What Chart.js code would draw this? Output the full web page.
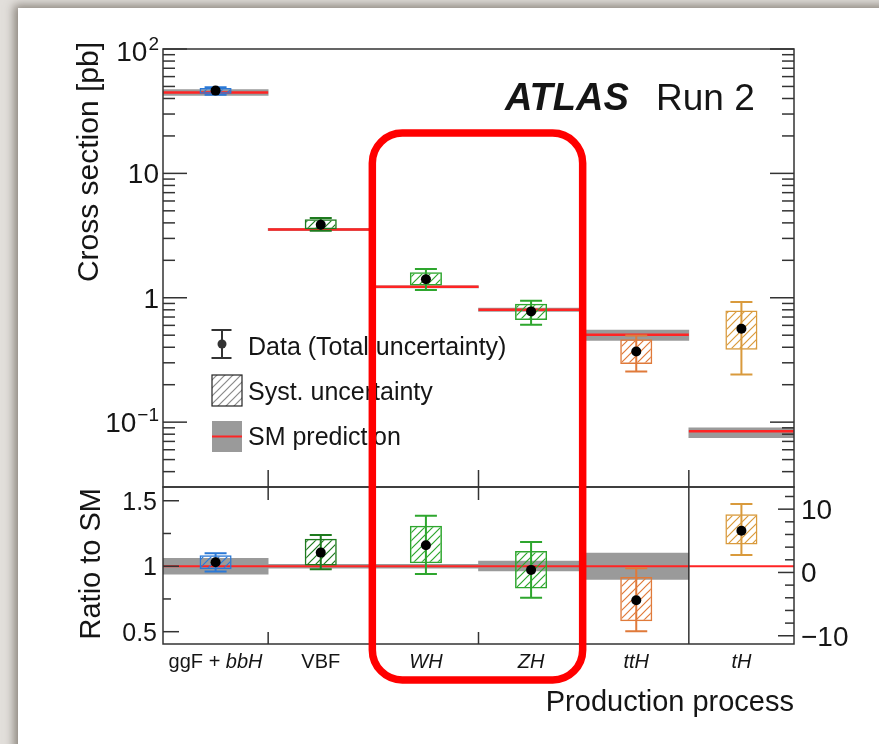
<!DOCTYPE html>
<html>
<head>
<meta charset="utf-8">
<script src="https://cdn.jsdelivr.net/npm/chart.js@4.4.1/dist/chart.umd.min.js"></script>
<style>
  html, body { margin: 0; width: 879px; height: 744px; overflow: hidden; background: #e2dfdb; }
  #card { position: absolute; left: 18px; top: 8px; width: 900px; height: 800px; background: #fff;
          box-shadow: -4px -3px 9px rgba(70, 60, 50, 0.55); }
  canvas { position: absolute; left: 0; top: 0; }
</style>
</head>
<body>
<div id="card"></div>
<canvas id="xsecChart" width="879" height="744"></canvas>
<canvas id="ratioChart" width="879" height="744"></canvas>
<script>
// production modes: [upright part, italic part]
const categoryParts = [["ggF + ", "bbH"], ["VBF", ""], ["", "WH"], ["", "ZH"], ["", "ttH"], ["", "tH"]];
const categories = categoryParts.map((p) => p.join(""));
const procColors = ["#2b79d6", "#1e7a1e", "#2ea62e", "#2ea62e", "#e07a3a", "#d99a3c"];

// measured cross sections [pb]
const xsecValue = [46.3, 3.86, 1.41, 0.777, 0.37, 0.564];
const xsecSystLo = [43.7, 3.56, 1.253, 0.663, 0.293, 0.382];
const xsecSystHi = [48.5, 4.28, 1.605, 0.894, 0.464, 0.79];
const xsecTotLo = [42.9, 3.45, 1.153, 0.608, 0.255, 0.242];
const xsecTotHi = [49.2, 4.38, 1.70, 0.948, 0.497, 0.924];

// SM predictions [pb]
const smValue = [44.7, 3.54, 1.225, 0.80, 0.505, 0.0843];
const smLo = [42.3, 3.47, 1.20, 0.775, 0.455, 0.075];
const smHi = [47.2, 3.61, 1.25, 0.825, 0.55, 0.090];

// ratio to SM (tH is read on the right-hand axis)
const ratioValue = [1.03, 1.104, 1.16, 0.972, 0.74, 6.6];
const ratioSystLo = [0.977, 1.005, 1.023, 0.829, 0.58, 4.4];
const ratioSystHi = [1.084, 1.21, 1.31, 1.117, 0.918, 9.2];
const ratioTotLo = [0.96, 0.977, 0.941, 0.76, 0.504, 2.75];
const ratioTotHi = [1.10, 1.239, 1.386, 1.185, 0.985, 10.8];
const ratioBandLo = [0.94, 0.985, 0.985, 0.965, 0.90, null];
const ratioBandHi = [1.06, 1.015, 1.015, 1.04, 1.10, null];

// axis ticks
const logTicks = [0.1, 1, 10, 100];
const logTickLabels = [["10", "\u22121"], ["1", ""], ["10", ""], ["10", "2"]];
const ratioTicks = [0.5, 1, 1.5];
const ratioTickLabels = ["0.5", "1", "1.5"];
const ratioMinorTicks = [0.75, 1.25];
const tHTicks = [-10, 0, 10];
const tHTickLabels = ["\u221210", "0", "10"];
const tHMinorTicks = [-8, -6, -4, -2, 2, 4, 6, 8, 12];

const legendLabels = ["Data (Total uncertainty)", "Syst. uncertainty", "SM prediction"];

const FONT = '"Liberation Sans", Arial, Helvetica, sans-serif';
const INK = "#151515";
const FRAME = "#333";
const SM_RED = "#ff2424";
const SM_GREY = "#9a9a9a";
const TH = categories.length - 1;

function hatch(ctx, color) {
  const tile = document.createElement("canvas");
  tile.width = tile.height = 8;
  const g = tile.getContext("2d");
  g.strokeStyle = color;
  g.lineWidth = 1.2;
  g.beginPath();
  g.moveTo(0, 8); g.lineTo(8, 0);
  g.moveTo(-2, 2); g.lineTo(2, -2);
  g.moveTo(6, 10); g.lineTo(10, 6);
  g.stroke();
  return ctx.createPattern(tile, "repeat");
}

function edge(x, i) {
  return x.getPixelForValue(i - 0.5);
}

function drawErrorBars(ctx, x, scaleFor, lo, hi) {
  ctx.save();
  ctx.lineWidth = 2;
  lo.forEach((v, i) => {
    const ys = scaleFor(i);
    const cx = x.getPixelForValue(i);
    const y1 = ys.getPixelForValue(v);
    const y2 = ys.getPixelForValue(hi[i]);
    ctx.strokeStyle = procColors[i];
    ctx.beginPath();
    ctx.moveTo(cx, y1); ctx.lineTo(cx, y2);
    ctx.moveTo(cx - 11, y1); ctx.lineTo(cx + 11, y1);
    ctx.moveTo(cx - 11, y2); ctx.lineTo(cx + 11, y2);
    ctx.stroke();
  });
  ctx.restore();
}

function line(ctx, x1, y1, x2, y2) {
  ctx.beginPath();
  ctx.moveTo(x1, y1);
  ctx.lineTo(x2, y2);
  ctx.stroke();
}

const xsecDecor = {
  id: "xsecDecor",
  afterDatasetDraw(chart, args) {
    const { ctx } = chart;
    const { x, y } = chart.scales;
    if (args.index === 0) {
      ctx.save();
      ctx.strokeStyle = SM_RED;
      ctx.lineWidth = 2.5;
      smValue.forEach((v, i) => {
        const py = y.getPixelForValue(v);
        line(ctx, edge(x, i), py, edge(x, i + 1), py);
      });
      ctx.restore();
    }
    if (args.index === 1) drawErrorBars(ctx, x, () => y, xsecTotLo, xsecTotHi);
  },
  afterDraw(chart) {
    const { ctx, chartArea: a } = chart;
    const { x, y } = chart.scales;
    ctx.save();
    ctx.strokeStyle = FRAME;
    ctx.lineWidth = 1.5;
    ctx.strokeRect(a.left, a.top, a.right - a.left, a.bottom - a.top);

    // log ticks on both sides
    for (let d = -2; d <= 2; d++) {
      for (let m = 1; m <= 9; m++) {
        const v = m * Math.pow(10, d);
        if (v < y.min || v > y.max) continue;
        const py = y.getPixelForValue(v);
        const len = m === 1 ? 24 : 12;
        line(ctx, a.left, py, a.left + len, py);
        line(ctx, a.right - len, py, a.right, py);
      }
    }
    // bin boundary ticks
    for (let i = 1; i < categories.length; i++) {
      const px = edge(x, i);
      line(ctx, px, a.bottom, px, a.bottom - 17);
    }

    // tick labels
    ctx.fillStyle = INK;
    ctx.textBaseline = "alphabetic";
    logTicks.forEach((v, i) => {
      const [base, sup] = logTickLabels[i];
      const py = y.getPixelForValue(v) + (v === y.max ? 12 : 10);
      let right = a.left - 4;
      if (sup) {
        ctx.font = `19px ${FONT}`;
        ctx.textAlign = "right";
        ctx.fillText(sup, right, py - 11);
        right -= ctx.measureText(sup).width + 1;
      }
      ctx.font = `28px ${FONT}`;
      ctx.textAlign = "right";
      ctx.fillText(base, right, py);
    });

    // y title
    ctx.save();
    ctx.translate(98, 42);
    ctx.rotate(-Math.PI / 2);
    ctx.font = `30px ${FONT}`;
    ctx.textAlign = "right";
    ctx.fillText("Cross section [pb]", 0, 0);
    ctx.restore();

    // experiment label
    ctx.textAlign = "left";
    ctx.font = `italic bold 38px ${FONT}`;
    ctx.fillText("ATLAS", 505, 110);
    ctx.font = `37px ${FONT}`;
    ctx.fillText("Run 2", 656, 110);

    // legend
    const lx = 212, lw = 30;
    ctx.strokeStyle = "#333";
    ctx.lineWidth = 2;
    line(ctx, lx + 10, 330, lx + 10, 358);
    line(ctx, lx - 0.5, 330, lx + 19.5, 330);
    line(ctx, lx - 0.5, 358, lx + 19.5, 358);
    ctx.fillStyle = "#333";
    ctx.beginPath();
    ctx.arc(lx + 10, 344, 4.5, 0, Math.PI * 2);
    ctx.fill();

    ctx.fillStyle = hatch(ctx, "#8a8a8a");
    ctx.fillRect(lx, 375, lw, 31);
    ctx.strokeStyle = "#222";
    ctx.lineWidth = 1.2;
    ctx.strokeRect(lx, 375, lw, 31);

    ctx.fillStyle = SM_GREY;
    ctx.fillRect(lx, 421, lw, 31);
    ctx.strokeStyle = SM_RED;
    ctx.lineWidth = 2;
    line(ctx, lx, 436.5, lx + lw, 436.5);

    ctx.fillStyle = INK;
    ctx.font = `25px ${FONT}`;
    ctx.textAlign = "left";
    [355, 400, 445].forEach((by, i) => ctx.fillText(legendLabels[i], 248, by));
    ctx.restore();
  },
};

const ratioDecor = {
  id: "ratioDecor",
  afterDatasetDraw(chart, args) {
    const { ctx, chartArea: a } = chart;
    const { x, y, yR } = chart.scales;
    if (args.index === 0) {
      ctx.save();
      ctx.strokeStyle = SM_RED;
      ctx.lineWidth = 2;
      const py = y.getPixelForValue(1);
      line(ctx, a.left, py, a.right, py);
      ctx.restore();
    }
    if (args.index === 2) {
      drawErrorBars(ctx, x, (i) => (i === TH ? yR : y), ratioTotLo, ratioTotHi);
    }
  },
  afterDraw(chart) {
    const { ctx, chartArea: a } = chart;
    const { x, y, yR } = chart.scales;
    ctx.save();
    ctx.strokeStyle = FRAME;
    ctx.lineWidth = 1.5;
    ctx.strokeRect(a.left, a.top, a.right - a.left, a.bottom - a.top);

    // bin boundaries: short ticks, full line before tH
    for (let i = 1; i < categories.length; i++) {
      const px = edge(x, i);
      if (i === TH) {
        line(ctx, px, a.top, px, a.bottom);
      } else {
        line(ctx, px, a.top, px, a.top + 13);
        line(ctx, px, a.bottom, px, a.bottom - 12);
      }
    }
    ratioTicks.forEach((v) => { const py = y.getPixelForValue(v); line(ctx, a.left, py, a.left + 16, py); });
    ratioMinorTicks.forEach((v) => { const py = y.getPixelForValue(v); line(ctx, a.left, py, a.left + 8, py); });
    tHTicks.forEach((v) => { const py = yR.getPixelForValue(v); line(ctx, a.right - 16, py, a.right, py); });
    tHMinorTicks.forEach((v) => { const py = yR.getPixelForValue(v); line(ctx, a.right - 9, py, a.right, py); });

    ctx.fillStyle = INK;
    ctx.textBaseline = "alphabetic";
    ctx.font = `25px ${FONT}`;
    ctx.textAlign = "right";
    ratioTicks.forEach((v, i) => ctx.fillText(ratioTickLabels[i], a.left - 6, y.getPixelForValue(v) + 9));
    ctx.font = `28px ${FONT}`;
    ctx.textAlign = "left";
    tHTicks.forEach((v, i) => ctx.fillText(tHTickLabels[i], a.right + 7, yR.getPixelForValue(v) + 10));

    // y title
    ctx.save();
    ctx.translate(100, 488);
    ctx.rotate(-Math.PI / 2);
    ctx.font = `29px ${FONT}`;
    ctx.textAlign = "right";
    ctx.fillText("Ratio to SM", 0, 0);
    ctx.restore();

    // category labels, italic part for process names
    categoryParts.forEach(([plain, ital], i) => {
      ctx.font = `20px ${FONT}`;
      const w1 = ctx.measureText(plain).width;
      ctx.font = `italic 20px ${FONT}`;
      const w2 = ctx.measureText(ital).width;
      const px = x.getPixelForValue(i) - (w1 + w2) / 2;
      ctx.textAlign = "left";
      ctx.font = `20px ${FONT}`;
      ctx.fillText(plain, px, 668);
      ctx.font = `italic 20px ${FONT}`;
      ctx.fillText(ital, px + w1, 668);
    });

    ctx.font = `29px ${FONT}`;
    ctx.textAlign = "right";
    ctx.fillText("Production process", a.right, 711);

    // highlight around the VH modes
    ctx.strokeStyle = "#ff0000";
    ctx.lineWidth = 7.5;
    ctx.beginPath();
    ctx.roundRect(edge(x, 2) - 1, 133, edge(x, 4) - edge(x, 2), 547, 30);
    ctx.stroke();
    ctx.restore();
  },
};

const xsecCtx = document.getElementById("xsecChart").getContext("2d");
const ratioCtx = document.getElementById("ratioChart").getContext("2d");

const boxWidth = 0.305;

new Chart(xsecCtx, {
  type: "bar",
  data: {
    labels: categories,
    datasets: [
      {
        label: "SM prediction",
        data: smLo.map((v, i) => [v, smHi[i]]),
        backgroundColor: SM_GREY,
        barPercentage: 1,
        categoryPercentage: 1,
        grouped: false,
        order: 3,
      },
      {
        label: "Syst. uncertainty",
        data: xsecSystLo.map((v, i) => [v, xsecSystHi[i]]),
        backgroundColor: procColors.map((c) => hatch(xsecCtx, c)),
        borderColor: procColors,
        borderWidth: 1.5,
        borderSkipped: false,
        barPercentage: boxWidth,
        categoryPercentage: 1,
        grouped: false,
        order: 2,
      },
      {
        type: "line",
        label: "Data",
        data: xsecValue,
        showLine: false,
        pointRadius: 5,
        pointBorderWidth: 0,
        pointBackgroundColor: "#000",
        order: 0,
      },
    ],
  },
  options: {
    responsive: false,
    animation: false,
    devicePixelRatio: 1,
    layout: { padding: { left: 163, right: 85, top: 49, bottom: 257 } },
    plugins: { legend: { display: false }, tooltip: { enabled: false } },
    scales: {
      x: { display: false, offset: true },
      y: { type: "logarithmic", display: false, min: 0.0301, max: 100 },
    },
  },
  plugins: [xsecDecor],
});

new Chart(ratioCtx, {
  type: "bar",
  data: {
    labels: categories,
    datasets: [
      {
        label: "SM band",
        data: ratioBandLo.map((v, i) => (v === null ? null : [v, ratioBandHi[i]])),
        backgroundColor: SM_GREY,
        barPercentage: 1,
        categoryPercentage: 1,
        grouped: false,
        order: 5,
      },
      {
        label: "Syst. uncertainty",
        data: ratioSystLo.map((v, i) => (i === TH ? null : [v, ratioSystHi[i]])),
        backgroundColor: procColors.map((c) => hatch(ratioCtx, c)),
        borderColor: procColors,
        borderWidth: 1.5,
        borderSkipped: false,
        barPercentage: boxWidth,
        categoryPercentage: 1,
        grouped: false,
        order: 4,
      },
      {
        label: "Syst. uncertainty tH",
        yAxisID: "yR",
        data: ratioSystLo.map((v, i) => (i === TH ? [v, ratioSystHi[i]] : null)),
        backgroundColor: procColors.map((c) => hatch(ratioCtx, c)),
        borderColor: procColors,
        borderWidth: 1.5,
        borderSkipped: false,
        barPercentage: boxWidth,
        categoryPercentage: 1,
        grouped: false,
        order: 3,
      },
      {
        type: "line",
        label: "Data",
        data: ratioValue.map((v, i) => (i === TH ? null : v)),
        showLine: false,
        pointRadius: 5,
        pointBorderWidth: 0,
        pointBackgroundColor: "#000",
        order: 1,
      },
      {
        type: "line",
        label: "Data tH",
        yAxisID: "yR",
        data: ratioValue.map((v, i) => (i === TH ? v : null)),
        showLine: false,
        pointRadius: 5,
        pointBorderWidth: 0,
        pointBackgroundColor: "#000",
        order: 0,
      },
    ],
  },
  options: {
    responsive: false,
    animation: false,
    devicePixelRatio: 1,
    layout: { padding: { left: 163, right: 85, top: 487, bottom: 100 } },
    plugins: { legend: { display: false }, tooltip: { enabled: false } },
    scales: {
      x: { display: false, offset: true },
      y: { type: "linear", display: false, min: 0.406, max: 1.605 },
      yR: { type: "linear", display: false, position: "right", min: -11.3, max: 13.5 },
    },
  },
  plugins: [ratioDecor],
});
</script>
</body>
</html>
